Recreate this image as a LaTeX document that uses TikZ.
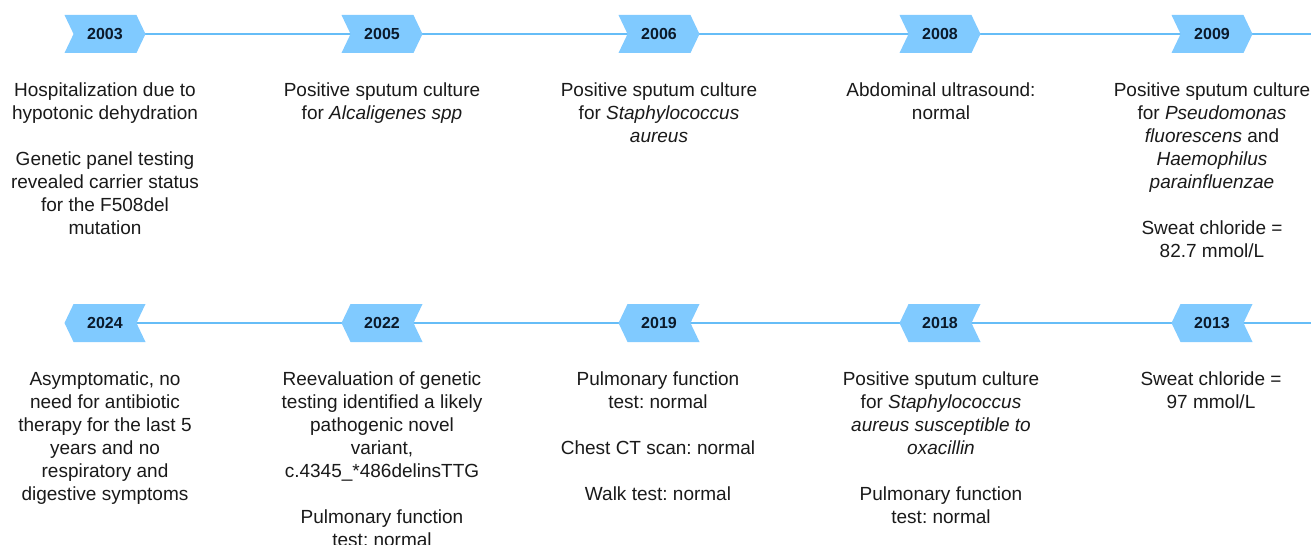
\documentclass[tikz,border=0pt]{standalone}
\usepackage{fontspec}
\setmainfont{Liberation Sans}
\usetikzlibrary{shapes.symbols,backgrounds}
\definecolor{chev}{HTML}{80CAFF}
\definecolor{tline}{HTML}{66BDF7}
\definecolor{ink}{HTML}{1A1A1A}
\definecolor{yr}{HTML}{0B1A2B}
\frenchspacing
\begin{document}
\begin{tikzpicture}[x=1pt,y=-1pt,
  chevbase/.style={signal, fill=chev, draw=none, minimum width=81pt, minimum height=38pt,
    inner sep=0pt, signal pointer angle=129, font=\fontsize{16}{19}\selectfont\bfseries, text=yr},
  fwd/.style={chevbase, signal to=east, signal from=west},
  bwd/.style={chevbase, signal to=west, signal from=east},
  desc/.style={anchor=north, align=center, inner sep=0pt, font=\fontsize{19}{23}\selectfont\frenchspacing, text=ink},
  conn/.style={draw=tline, line width=1.8pt}]
\useasboundingbox (0,0) rectangle (1311,545);
% top row chevrons
\node[fwd] (y2003) at (105,34) {2003};
\node[fwd] (y2005) at (382,34) {2005};
\node[fwd] (y2006) at (659,34) {2006};
\node[fwd] (y2008) at (940,34) {2008};
\node[fwd] (y2009) at (1212,34) {2009};
\coordinate (topend) at (1311,34);
% bottom row chevrons
\node[bwd] (y2024) at (105,323) {2024};
\node[bwd] (y2022) at (382,323) {2022};
\node[bwd] (y2019) at (659,323) {2019};
\node[bwd] (y2018) at (940,323) {2018};
\node[bwd] (y2013) at (1212,323) {2013};
\coordinate (botend) at (1311,323);
\begin{scope}[on background layer]
  \fill[white] (0,0) rectangle (1311,545);
  \draw[conn] (y2003.center) -- (y2005.center) -- (y2006.center) -- (y2008.center) -- (y2009.center) -- (topend);
  \draw[conn] (y2024.center) -- (y2022.center) -- (y2019.center) -- (y2018.center) -- (y2013.center) -- (botend);
\end{scope}
% descriptions, top row
\node[desc] (d2003) at (105,82.5) {Hospitalization due to\\hypotonic dehydration\\[23pt]Genetic panel testing\\revealed carrier status\\for the F508del\\mutation};
\node[desc] (d2005) at (382,82.5) {Positive sputum culture\\for \textit{Alcaligenes spp}};
\node[desc] (d2006) at (659,82.5) {Positive sputum culture\\for \textit{Staphylococcus}\\\textit{aureus}};
\node[desc] (d2008) at (941,82.5) {Abdominal ultrasound:\\normal};
\node[desc] (d2009) at (1212,82.5) {Positive sputum culture\\for \textit{Pseudomonas}\\\textit{fluorescens} and\\\textit{Haemophilus}\\\textit{parainfluenzae}\\[23pt]Sweat chloride =\\82.7 mmol/L};
% descriptions, bottom row
\node[desc] (d2024) at (105,371.5) {Asymptomatic, no\\need for antibiotic\\therapy for the last 5\\years and no\\respiratory and\\digestive symptoms};
\node[desc] (d2022) at (382,371.5) {Reevaluation of genetic\\testing identified a likely\\pathogenic novel\\variant,\\c.4345\_*486delinsTTG\\[23pt]Pulmonary function\\test: normal};
\node[desc] (d2019) at (658,371.5) {Pulmonary function\\test: normal\\[23pt]Chest CT scan: normal\\[23pt]Walk test: normal};
\node[desc] (d2018) at (941,371.5) {Positive sputum culture\\for \textit{Staphylococcus}\\\textit{aureus susceptible to}\\\textit{oxacillin}\\[23pt]Pulmonary function\\test: normal};
\node[desc] (d2013) at (1211,371.5) {Sweat chloride =\\97 mmol/L};
\end{tikzpicture}
\end{document}
